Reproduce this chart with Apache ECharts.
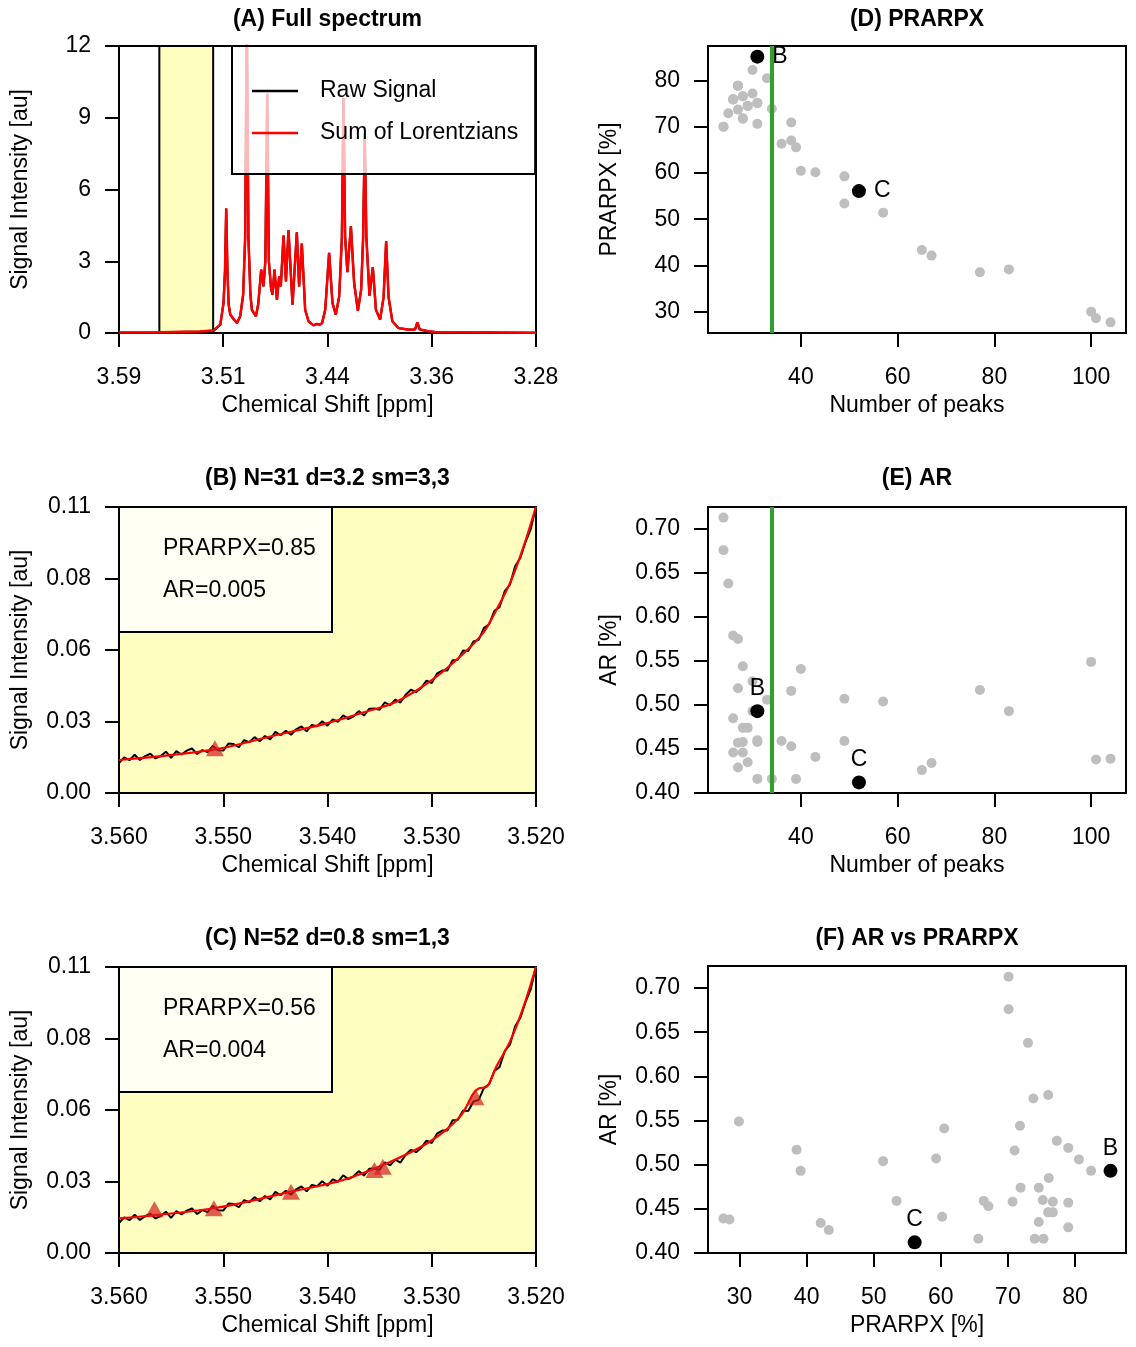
<!DOCTYPE html>
<html>
<head>
<meta charset="utf-8">
<script src="https://cdn.jsdelivr.net/npm/echarts@6/dist/echarts.min.js"></script>
<style>
html, body { margin: 0; padding: 0; background: #fff; }
#main { width: 1136px; height: 1347px; }
</style>
</head>
<body>
<div id="main"></div>
<script>
// (A) full spectrum - vertices
var specPpm = [3.59, 3.56, 3.53, 3.5197, 3.5147, 3.5123, 3.5112, 3.5103, 3.5094, 3.5085, 3.5073, 3.5049, 3.5023,
    3.4999, 3.4977, 3.4962, 3.4950, 3.4938, 3.4923, 3.4912, 3.4882, 3.4865, 3.4843, 3.4826, 3.4812, 3.4798,
    3.4786, 3.4770, 3.4759, 3.4744, 3.4726, 3.4709, 3.4697, 3.4677, 3.4659, 3.4640, 3.4610, 3.4578, 3.4561,
    3.4541, 3.4516, 3.4491, 3.4454, 3.4430, 3.4417, 3.4405, 3.4390, 3.4367, 3.4338, 3.4313, 3.4288, 3.4263,
    3.4243, 3.4231, 3.4219, 3.4202, 3.4176, 3.4152, 3.4124, 3.4100, 3.4085, 3.4073, 3.4061, 3.4038, 3.4013,
    3.3990, 3.3959, 3.3933, 3.3914, 3.3896, 3.3868, 3.3823, 3.3749, 3.3699, 3.3682, 3.3665, 3.3600, 3.3550, 3.28];
var specInt = [0.02, 0.03, 0.06, 0.10, 0.35, 1.25, 2.6, 5.2, 2.6, 1.2, 0.77, 0.59, 0.42,
    0.70, 1.6, 4.0, 13.5, 4.0, 1.6, 0.97, 0.70, 1.2, 2.65, 1.95, 3.0, 10.0,
    3.0, 1.9, 1.6, 2.65, 1.39, 2.37, 1.95, 4.07, 2.16, 4.29, 1.18, 4.21, 1.95,
    3.74, 0.97, 0.49, 0.32, 0.38, 0.45, 0.35, 0.42, 0.97, 3.35, 1.25, 0.77, 1.53,
    4.0, 9.83, 4.0, 2.54, 4.46, 2.09, 0.93, 1.8, 4.0, 8.33, 4.0, 1.56, 2.75,
    0.97, 0.56, 1.5, 3.83, 1.5, 0.49, 0.21, 0.14, 0.15, 0.44, 0.15, 0.07, 0.04, 0.01];
var specTicks = [3.59, 3.5125, 3.435, 3.3575, 3.28];
var specTickLabels = ['3.59', '3.51', '3.44', '3.36', '3.28'];
var specIntTicks = [0, 3, 6, 9, 12];
var zoomWindow = [3.56, 3.52];

// (B), (C) zoomed region
var zoomTicks = [3.56, 3.55, 3.54, 3.53, 3.52];
var zoomIntTicks = [0, 0.0275, 0.055, 0.0825, 0.11];
var zoomIntLabels = ['0.00', '0.03', '0.06', '0.08', '0.11'];
var rawStart = 3.56, rawStep = 0.0005;
var rawInt = [0.0115, 0.0137, 0.0126, 0.0147, 0.0127, 0.0142, 0.0151, 0.0133, 0.0142, 0.0159,
    0.0135, 0.0161, 0.0148, 0.0163, 0.0171, 0.0150, 0.0165, 0.0157, 0.0181, 0.0164,
    0.0163, 0.0190, 0.0188, 0.0176, 0.0203, 0.0195, 0.0215, 0.0199, 0.0219, 0.0206,
    0.0235, 0.0222, 0.0239, 0.0224, 0.0245, 0.0256, 0.0237, 0.0262, 0.0257, 0.0276,
    0.0259, 0.0283, 0.0274, 0.0299, 0.0284, 0.0295, 0.0315, 0.0298, 0.0324, 0.0325,
    0.0320, 0.0349, 0.0337, 0.0359, 0.0348, 0.0378, 0.0397, 0.0388, 0.0405, 0.0432,
    0.0423, 0.0459, 0.0471, 0.0471, 0.0511, 0.0512, 0.0548, 0.0546, 0.0583, 0.0589,
    0.0634, 0.0649, 0.0700, 0.0715, 0.0776, 0.0801, 0.0872, 0.0905, 0.0966, 0.1015, 0.1103];
var fitBPpm = [3.5600, 3.5508, 3.5449, 3.5401, 3.5366, 3.5334, 3.5302, 3.5273, 3.5251, 3.5238, 3.5225, 3.5212, 3.5200];
var fitBInt = [0.0127, 0.0168, 0.0223, 0.0268, 0.0309, 0.0351, 0.0428, 0.0524, 0.0614, 0.0704, 0.0807, 0.0947, 0.1101];
var peakBPpm = [3.5508];
var peakBInt = [0.0172];
var fitCPpm = [3.5600, 3.5509, 3.5435, 3.5385, 3.5343, 3.5302, 3.5273, 3.5260, 3.5255, 3.5247, 3.5238, 3.5225, 3.5212, 3.5200];
var fitCInt = [0.0133, 0.0172, 0.0236, 0.0281, 0.0345, 0.0428, 0.0524, 0.0614, 0.0633, 0.0640, 0.0717, 0.0813, 0.0947, 0.1101];
var peakCPpm = [3.5566, 3.5509, 3.5435, 3.5355, 3.5347, 3.5258];
var peakCInt = [0.0168, 0.0172, 0.0236, 0.0319, 0.0332, 0.0599];
var insetB = ['PRARPX=0.85', 'AR=0.005'];
var insetC = ['PRARPX=0.56', 'AR=0.004'];

// (D), (E), (F) parameter runs
var runN = [104, 101, 100, 77, 83, 67, 65, 57, 49, 49, 40, 43, 39, 36, 38, 24, 24, 31, 38, 28,
    28, 25, 27, 34, 29, 29, 31, 31, 26, 26, 26, 28, 28, 30, 27, 27, 27, 33, 30];
var runPrarpx = [27.6, 28.5, 29.9, 38.5, 39.1, 42.1, 43.3, 51.4, 53.4, 59.3, 60.5, 60.2, 65.6, 66.4, 67.1, 70.1, 70.1, 70.7, 71.0, 71.8,
    71.9, 73.0, 73.8, 74.0, 74.6, 74.6, 75.2, 75.3, 76.0, 76.1, 76.0, 76.7, 76.7, 77.3, 79.0, 79.0, 79.0, 80.6, 82.4];
var runAr = [0.439, 0.438, 0.549, 0.517, 0.493, 0.434, 0.426, 0.504, 0.459, 0.507, 0.541, 0.441, 0.416, 0.459, 0.453, 0.713, 0.676, 0.458, 0.516, 0.544,
    0.474, 0.638, 0.575, 0.416, 0.474, 0.435, 0.460, 0.416, 0.579, 0.485, 0.446, 0.446, 0.458, 0.527, 0.519, 0.457, 0.429, 0.506, 0.493];
var selNames = ['B', 'C'];
var selN = [31, 52];
var selPrarpx = [85.3, 56.1];
var selAr = [0.493, 0.412];
var cutoffN = 34;
var nTicks = [40, 60, 80, 100];
var prarpxTicks = [30, 40, 50, 60, 70, 80];
var arTicks = [0.40, 0.45, 0.50, 0.55, 0.60, 0.65, 0.70];

var titles = ['(A) Full spectrum', '(B) N=31 d=3.2 sm=3,3', '(C) N=52 d=0.8 sm=1,3',
    '(D) PRARPX', '(E) AR', '(F) AR vs PRARPX'];

var FONT = '"Liberation Sans", Arial, Helvetica, sans-serif';
var FS = 23;
var YELLOW = '#fefec0';
var GREY = '#bebebe';

function zip(a, b) {
    return a.map(function (v, i) { return [v, b[i]]; });
}
function padRange(vals) {
    var lo = Math.min.apply(null, vals), hi = Math.max.apply(null, vals), p = (hi - lo) * 0.04;
    return [lo - p, hi + p];
}
function nearestLabel(ticks, labels) {
    return function (v) {
        var best = 0;
        ticks.forEach(function (t, i) { if (Math.abs(t - v) < Math.abs(ticks[best] - v)) best = i; });
        return labels[best];
    };
}

var rawPpm = rawInt.map(function (v, i) { return rawStart - i * rawStep; });

var myChart = echarts.init(document.getElementById('main'), null, { renderer: 'canvas' });

var grids = [
    { left: 119, top: 46, width: 417, height: 287 }
    , { left: 119, top: 507, width: 417, height: 286, backgroundColor: YELLOW }
    , { left: 119, top: 967, width: 417, height: 286, backgroundColor: YELLOW }
    , { left: 708, top: 46, width: 418, height: 287 }
    , { left: 708, top: 507, width: 418, height: 286 }
    , { left: 708, top: 966, width: 418, height: 287 }
].map(function (g) {
    g.show = true;
    g.borderColor = '#000';
    g.borderWidth = 2;
    g.backgroundColor = g.backgroundColor || 'transparent';
    return g;
});

function axis(gi, pos, range, ticks, fmt, name, inverse) {
    var bottom = pos === 'bottom';
    return {
        type: 'value', gridIndex: gi, position: pos, min: range[0], max: range[1], inverse: !!inverse,
        axisLine: { show: false, onZero: false },
        splitLine: { show: false },
        axisTick: { show: true, length: 14, customValues: ticks, lineStyle: { color: '#000', width: 2 } },
        axisLabel: {
            customValues: ticks, formatter: fmt, color: '#000', fontSize: FS, fontFamily: FONT,
            margin: bottom ? 33 : 28, showMinLabel: true, showMaxLabel: true
        },
        name: name, nameLocation: 'middle', nameGap: bottom ? 61 : 87,
        nameTextStyle: { color: '#000', fontSize: FS, fontFamily: FONT }
    };
}

var rangeNx = padRange(runN.concat(selN));
var rangeP = padRange(runPrarpx.concat(selPrarpx));
var rangeAr = padRange(runAr.concat(selAr));
var fmtInt = function (v) { return String(Math.round(v)); };
var fmtAr = function (v) { return v.toFixed(2); };
var fmtZoom = function (v) { return v.toFixed(3); };

var xAxes = [
    axis(0, 'bottom', [3.28, 3.59], specTicks, nearestLabel(specTicks, specTickLabels), 'Chemical Shift [ppm]', true)
    , axis(1, 'bottom', [3.52, 3.56], zoomTicks, fmtZoom, 'Chemical Shift [ppm]', true)
    , axis(2, 'bottom', [3.52, 3.56], zoomTicks, fmtZoom, 'Chemical Shift [ppm]', true)
    , axis(3, 'bottom', rangeNx, nTicks, fmtInt, 'Number of peaks')
    , axis(4, 'bottom', rangeNx, nTicks, fmtInt, 'Number of peaks')
    , axis(5, 'bottom', rangeP, prarpxTicks, fmtInt, 'PRARPX [%]')
];
var yAxes = [
    axis(0, 'left', [0, 12], specIntTicks, fmtInt, 'Signal Intensity [au]')
    , axis(1, 'left', [0, 0.11], zoomIntTicks, nearestLabel(zoomIntTicks, zoomIntLabels), 'Signal Intensity [au]')
    , axis(2, 'left', [0, 0.11], zoomIntTicks, nearestLabel(zoomIntTicks, zoomIntLabels), 'Signal Intensity [au]')
    , axis(3, 'left', rangeP, prarpxTicks, fmtInt, 'PRARPX [%]')
    , axis(4, 'left', rangeAr, arTicks, fmtAr, 'AR [%]')
    , axis(5, 'left', rangeAr, arTicks, fmtAr, 'AR [%]')
];

var titleCenters = [[327.5, 8], [327.5, 467], [327.5, 927], [917, 8], [917, 467], [917, 927]];
var titleOpts = titles.map(function (t, i) {
    return {
        text: t, left: titleCenters[i][0], top: titleCenters[i][1], textAlign: 'center', padding: 0,
        textStyle: { fontSize: FS, fontWeight: 'bold', fontFamily: FONT, color: '#000' }
    };
});

function spectrumPanel(gi, fitPpm, fitInt, peakPpm, peakInt) {
    return [
        {
            type: 'line', name: 'Raw Signal', xAxisIndex: gi, yAxisIndex: gi,
            data: zip(rawPpm, rawInt), symbol: 'none', animation: false,
            lineStyle: { color: '#000', width: 2 }, itemStyle: { color: '#000' }
        }
        , {
            type: 'line', name: 'Sum of Lorentzians', xAxisIndex: gi, yAxisIndex: gi,
            data: zip(fitPpm, fitInt), symbol: 'none', smooth: 0.35, animation: false,
            lineStyle: { color: '#ff0000', width: 2.2 }, itemStyle: { color: '#ff0000' }
        }
        , {
            type: 'scatter', name: 'Peaks', xAxisIndex: gi, yAxisIndex: gi,
            data: zip(peakPpm, peakInt), symbol: 'triangle', symbolSize: [18, 16], animation: false,
            itemStyle: { color: 'rgba(210,28,28,0.88)' }, z: 4
        }
    ];
}

function runsPanel(gi, xs, ys, selXs, selYs, withCutoff, labelPos) {
    var grey = {
        type: 'scatter', name: 'runs', xAxisIndex: gi, yAxisIndex: gi,
        data: zip(xs, ys), symbolSize: 10, animation: false,
        itemStyle: { color: GREY, opacity: 1 }, z: 2
    };
    if (withCutoff) {
        grey.markLine = {
            silent: true, symbol: ['none', 'none'], animation: false,
            label: { show: false },
            lineStyle: { color: '#2ea02e', width: 4, type: 'solid' },
            data: [{ xAxis: cutoffN }]
        };
    }
    var sel = {
        type: 'scatter', name: 'selected', xAxisIndex: gi, yAxisIndex: gi,
        data: selXs.map(function (x, i) { return { value: [x, selYs[i]], name: selNames[i] }; }),
        symbolSize: 14, animation: false,
        itemStyle: { color: '#000', opacity: 1 }, z: 5,
        label: {
            show: true, formatter: '{b}', position: labelPos, distance: labelPos === 'right' ? 8 : 4,
            color: '#000', fontSize: FS, fontFamily: FONT
        }
    };
    return [grey, sel];
}

var series = [
    {
        type: 'line', name: 'Raw Signal', xAxisIndex: 0, yAxisIndex: 0,
        data: zip(specPpm, specInt), symbol: 'none', animation: false,
        lineStyle: { color: '#000', width: 2.2 }, itemStyle: { color: '#000' },
        markArea: {
            silent: true, animation: false,
            itemStyle: { color: YELLOW, borderColor: '#000', borderWidth: 2 },
            data: [[{ xAxis: zoomWindow[0] }, { xAxis: zoomWindow[1] }]]
        }
    }
    , {
        type: 'line', name: 'Sum of Lorentzians', xAxisIndex: 0, yAxisIndex: 0,
        data: zip(specPpm, specInt), symbol: 'none', animation: false,
        lineStyle: { color: '#ff0000', width: 2.5 }, itemStyle: { color: '#ff0000' }
    }
]
    .concat(spectrumPanel(1, fitBPpm, fitBInt, peakBPpm, peakBInt))
    .concat(spectrumPanel(2, fitCPpm, fitCInt, peakCPpm, peakCInt))
    .concat(runsPanel(3, runN, runPrarpx, selN, selPrarpx, true, 'right'))
    .concat(runsPanel(4, runN, runAr, selN, selAr, true, 'top'))
    .concat(runsPanel(5, runPrarpx, runAr, selPrarpx, selAr, false, 'top'));

// inset boxes with the scores of B and C
function insetBox(top, lines) {
    return {
        type: 'group', z: 10, children: [
            {
                type: 'rect', shape: { x: 119, y: top, width: 213, height: 125 },
                style: { fill: 'rgba(255,255,255,0.8)', stroke: '#000', lineWidth: 2 }
            }
            , {
                type: 'text', x: 163, y: top + 42,
                style: { text: lines[0], fill: '#000', font: FS + 'px ' + FONT, verticalAlign: 'middle' }
            }
            , {
                type: 'text', x: 163, y: top + 84,
                style: { text: lines[1], fill: '#000', font: FS + 'px ' + FONT, verticalAlign: 'middle' }
            }
        ]
    };
}

var option = {
    backgroundColor: '#fff',
    animation: false,
    title: titleOpts,
    grid: grids,
    xAxis: xAxes,
    yAxis: yAxes,
    legend: {
        data: [{ name: 'Raw Signal', icon: 'rect' }, { name: 'Sum of Lorentzians', icon: 'rect' }],
        orient: 'vertical', left: 232, top: 46,
        padding: [33, 17, 29, 20], itemGap: 18,
        itemWidth: 46, itemHeight: 2.5,
        backgroundColor: 'rgba(255,255,255,0.72)', borderColor: '#000', borderWidth: 2,
        selectedMode: false,
        textStyle: { fontSize: FS, fontFamily: FONT, color: '#000', padding: [0, 0, 0, 17], lineHeight: 24 }
    },
    graphic: [insetBox(507, insetB), insetBox(967, insetC)],
    series: series
};

myChart.setOption(option);
window.onresize = myChart.resize;
</script>
</body>
</html>
